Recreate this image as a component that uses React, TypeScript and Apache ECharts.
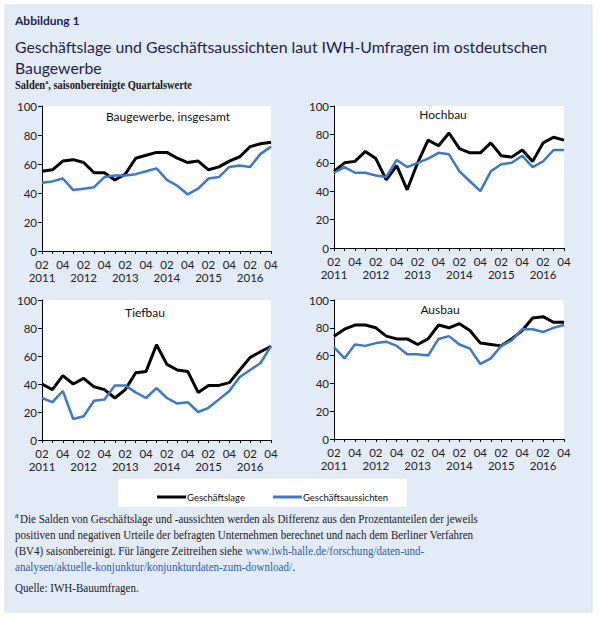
import React, { useEffect, useRef } from "react";
import * as echarts from "echarts";

const quarters: string[] = [
  "2011Q2", "2011Q3", "2011Q4",
  "2012Q1", "2012Q2", "2012Q3", "2012Q4",
  "2013Q1", "2013Q2", "2013Q3", "2013Q4",
  "2014Q1", "2014Q2", "2014Q3", "2014Q4",
  "2015Q1", "2015Q2", "2015Q3", "2015Q4",
  "2016Q1", "2016Q2", "2016Q3", "2016Q4",
];

const panelTitles = ["Baugewerbe, insgesamt", "Hochbau", "Tiefbau", "Ausbau"];
const yTicks = [0, 20, 40, 60, 80, 100];
const seriesNames = ["Geschäftslage", "Geschäftsaussichten"];

const bauLage = [55, 56, 62, 63, 61, 54, 54, 49, 53, 64, 66, 68, 68, 64, 61, 62, 56, 58, 62, 65, 72, 74, 75];
const bauAus = [47, 48, 50, 42, 43, 44, 51, 52, 52, 53, 55, 57, 49, 45, 39, 43, 50, 51, 58, 59, 58, 67, 72];

const hochLage = [54, 60, 61, 68, 63, 48, 58, 41, 60, 76, 72, 81, 70, 67, 67, 74, 65, 64, 69, 61, 74, 78, 76];
const hochAus = [53, 57, 53, 53, 51, 50, 62, 57, 60, 63, 67, 66, 54, 47, 40, 54, 59, 60, 65, 57, 61, 69, 69];

const tiefLage = [40, 36, 46, 40, 44, 38, 36, 30, 36, 48, 49, 68, 54, 50, 49, 34, 39, 39, 41, 50, 59, 63, 67];
const tiefAus = [30, 27, 35, 15, 17, 28, 29, 39, 39, 34, 30, 37, 30, 26, 27, 20, 23, 29, 35, 45, 50, 55, 67];

const ausLage = [74, 79, 82, 82, 80, 74, 72, 72, 68, 72, 82, 80, 83, 78, 69, 68, 67, 72, 78, 87, 88, 84, 84];
const ausAus = [66, 58, 68, 67, 69, 70, 67, 61, 61, 60, 72, 74, 68, 65, 54, 58, 67, 71, 79, 79, 77, 80, 82];

const panelData = [
  [bauLage, bauAus],
  [hochLage, hochAus],
  [tiefLage, tiefAus],
  [ausLage, ausAus],
];

const SANS = "Lato, 'Open Sans', sans-serif";
const SERIF = "'Liberation Serif', 'DejaVu Serif', serif";
const BLACK = "#000000";
const BLUE = "#3c79c8";
const LINK = "#2e5ea8";
const TXT = "#222222";

export default function App() {
  const ref = useRef<HTMLDivElement>(null);

  useEffect(() => {
    if (!ref.current) return;
    const chart = echarts.init(ref.current, null, { renderer: "svg" });

    const grids = [
      { left: 42, top: 106, width: 229, height: 145 },
      { left: 334, top: 106, width: 230, height: 142 },
      { left: 42, top: 300, width: 229, height: 140 },
      { left: 334, top: 300, width: 230, height: 139 },
    ];

    const xLabel = (value: string) => {
      const q = value.slice(4);
      const y = value.slice(0, 4);
      if (q === "Q2") return "02\n" + y;
      if (q === "Q4") return "04";
      return "";
    };

    const xAxis = grids.map((_, i) => ({
      type: "category",
      gridIndex: i,
      data: quarters,
      boundaryGap: false,
      axisLine: { lineStyle: { color: "#000", width: 1 } },
      axisTick: { interval: 0, length: 3, lineStyle: { color: "#000" } },
      axisLabel: {
        interval: 0,
        formatter: xLabel,
        fontFamily: SANS,
        fontSize: 11.5,
        color: TXT,
        lineHeight: 13,
        margin: 7,
        verticalAlign: "top",
        hideOverlap: false,
      },
      splitLine: { show: false },
    }));

    const yAxis = grids.map((_, i) => ({
      type: "value",
      gridIndex: i,
      min: yTicks[0],
      max: yTicks[yTicks.length - 1],
      interval: yTicks[1] - yTicks[0],
      axisLine: { show: true, lineStyle: { color: "#000", width: 1 } },
      axisTick: { show: true, length: 4, lineStyle: { color: "#000" } },
      axisLabel: { fontFamily: SANS, fontSize: 11.5, color: TXT, margin: 5 },
      splitLine: { show: false },
    }));

    const series: any[] = [];
    panelData.forEach((pair, i) => {
      series.push({
        name: seriesNames[0],
        type: "line",
        xAxisIndex: i,
        yAxisIndex: i,
        data: pair[0],
        symbol: "none",
        lineStyle: { color: BLACK, width: 3 },
        itemStyle: { color: BLACK },
        z: 3,
      });
      series.push({
        name: seriesNames[1],
        type: "line",
        xAxisIndex: i,
        yAxisIndex: i,
        data: pair[1],
        symbol: "none",
        lineStyle: { color: BLUE, width: 2.5 },
        itemStyle: { color: BLUE },
        z: 4,
      });
    });

    const titlePos = [
      [168, 116],
      [443, 114],
      [145, 312],
      [440, 309],
    ];

    const foot = (x: number, y: number, text: string, rich?: any) => ({
      type: "text",
      x,
      y,
      scaleX: 0.85,
      style: {
        text,
        font: `13px ${SERIF}`,
        fill: TXT,
        verticalAlign: "middle",
        rich,
      },
    });

    const richFoot = {
      n: { fontSize: 13, fontFamily: SERIF, fill: TXT },
      l: { fontSize: 13, fontFamily: SERIF, fill: LINK },
    };

    const graphic: any[] = [
      {
        type: "rect",
        shape: { x: 5, y: 5, width: 587, height: 607 },
        style: { fill: "#e3ebf7", stroke: "#d6dfee", lineWidth: 1 },
        z: -10,
        silent: true,
      },
      {
        type: "rect",
        shape: { x: 118, y: 479, width: 289, height: 28 },
        style: { fill: "#ffffff" },
        z: -5,
        silent: true,
      },
      {
        type: "text",
        x: 15,
        y: 20,
        style: { text: "Abbildung 1", font: `bold 12px ${SANS}`, fill: "#1c1f5a", verticalAlign: "middle" },
      },
      {
        type: "text",
        x: 15,
        y: 46,
        style: {
          text: "Geschäftslage und Geschäftsaussichten laut IWH-Umfragen im ostdeutschen",
          font: `15.8px ${SANS}`,
          fill: "#1c1f4a",
          verticalAlign: "middle",
        },
      },
      {
        type: "text",
        x: 15,
        y: 67,
        style: { text: "Baugewerbe", font: `15.8px ${SANS}`, fill: "#1c1f4a", verticalAlign: "middle" },
      },
      {
        type: "text",
        x: 15,
        y: 85,
        scaleX: 0.87,
        style: {
          text: "Salden{s|a}, saisonbereinigte Quartalswerte",
          font: `bold 12px ${SERIF}`,
          fill: "#1a1a1a",
          verticalAlign: "middle",
          rich: { s: { fontSize: 7, fontWeight: "bold", fontFamily: SERIF, padding: [0, 0, 7, 0] } },
        },
      },
      ...panelTitles.map((t, i) => ({
        type: "text",
        x: titlePos[i][0],
        y: titlePos[i][1],
        style: { text: t, font: `12px ${SANS}`, fill: "#111", align: "center", verticalAlign: "middle" },
        z: 10,
      })),
      {
        type: "text",
        x: 15,
        y: 515,
        style: { text: "a", font: `8px ${SERIF}`, fill: TXT, verticalAlign: "middle" },
      },
      foot(20, 519, "Die Salden von Geschäftslage und -aussichten werden als Differenz aus den Prozentanteilen der jeweils"),
      foot(15, 535, "positiven und negativen Urteile der befragten Unternehmen berechnet und nach dem Berliner Verfahren"),
      foot(15, 551, "{n|(BV4) saisonbereinigt. Für längere Zeitreihen siehe }{l|www.iwh-halle.de/forschung/daten-und-}", richFoot),
      foot(15, 567, "{l|analysen/aktuelle-konjunktur/konjunkturdaten-zum-download/}{n|.}", richFoot),
      foot(15, 588, "Quelle: IWH-Bauumfragen."),
    ];

    chart.setOption({
      animation: false,
      backgroundColor: "#ffffff",
      grid: grids.map((g) => ({ ...g, show: true, backgroundColor: "#ffffff", borderWidth: 0 })),
      xAxis,
      yAxis,
      series,
      legend: {
        data: seriesNames,
        left: 152,
        top: 487,
        itemGap: 28,
        itemWidth: 29,
        itemHeight: 3,
        icon: "rect",
        textStyle: { fontFamily: SANS, fontSize: 9.5, color: "#111", padding: [0, 0, 0, -4] },
      },
      graphic,
    });

    return () => chart.dispose();
  }, []);

  return (
    <div
      ref={ref}
      style={{ position: "absolute", left: 0, top: 0, width: 600, height: 620 }}
    />
  );
}
